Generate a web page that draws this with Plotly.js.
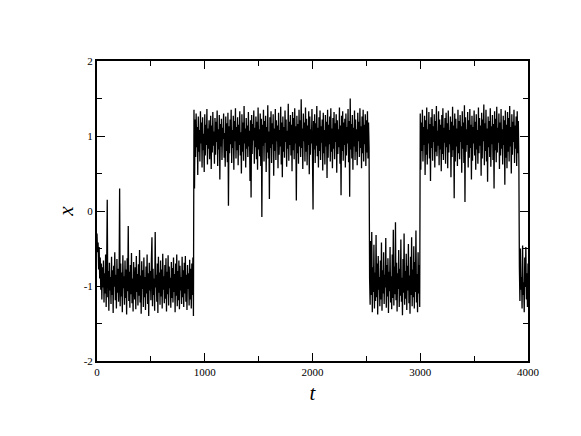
<!DOCTYPE html>
<html>
<head>
<meta charset="utf-8">
<script src="https://cdn.plot.ly/plotly-3.0.1.min.js"></script>
<style>html,body{margin:0;padding:0;background:#fff;}#chart{width:581px;height:436px;}</style>
</head>
<body>
<div id="chart"></div>
<script>
// sampling of the trace (time step between read-off values)
const tStep = 5;
// start time of each state segment
const segmentStarts = [0, 900, 2530, 3000, 3920];

// segment 1: lower state, t = 0 .. 895
const lowState1 = [
-0.30,-0.55,-0.42,-0.78,-0.48,-0.90,-0.62,-1.05,-0.70,-1.18,
-0.75,-1.02,-0.66,-1.22,-0.83,-1.10,-0.58,-1.28,-0.72,0.15,
-1.15,-0.80,-1.33,-0.69,-1.06,-0.88,-1.24,-0.61,-1.12,-0.79,
-1.36,-0.73,-1.01,-0.55,-1.19,-0.85,-1.30,-0.64,-1.09,-0.77,
-1.21,-0.92,0.30,-1.27,-0.70,-1.14,-0.82,-1.35,-0.59,-1.03,
-0.87,-1.25,-0.66,-1.16,-0.78,-1.38,-0.63,-1.07,-0.20,-1.20,
-0.81,-1.29,-0.72,-1.11,-0.56,-1.23,-0.90,-1.34,-0.68,-0.99,
-1.18,-0.75,-1.31,-0.60,-1.08,-0.84,-1.26,-0.71,-1.13,-0.52,
-1.22,-0.86,-1.37,-0.67,-1.04,-0.79,-1.28,-0.62,-1.15,-0.88,
-1.32,-0.74,-1.10,-0.58,-1.24,-0.83,-1.40,-0.69,-1.06,-0.80,
-1.19,-0.64,-0.35,-1.27,-0.77,-1.12,-0.90,-1.33,-0.28,-1.02,
-0.85,-1.21,-0.70,-1.36,-0.61,-1.09,-0.82,-1.25,-0.66,-1.14,
-0.78,-1.30,-0.57,-1.05,-0.87,-1.23,-0.72,-1.17,-0.63,-1.34,
-0.81,-1.11,-0.59,-1.26,-0.74,-1.03,-0.89,-1.29,-0.68,-1.16,
-0.76,-1.22,-0.62,-1.08,-0.84,-1.35,-0.70,-1.13,-0.58,-1.27,
-0.80,-1.19,-0.66,-1.31,-0.73,-1.06,-0.88,-1.24,-0.61,-1.15,
-0.79,-1.28,-0.69,-1.10,-0.60,-1.21,-0.85,-1.32,-0.72,-1.04,
-0.83,-1.26,-0.65,-1.18,-0.77,-1.30,-0.70,-1.12,-0.62,-1.40
];

// segment 2: upper state, t = 900 .. 2525
const highState1 = [
1.35,0.30,1.22,0.72,1.30,0.85,1.12,0.48,1.26,0.79,
1.08,0.66,1.33,0.90,1.18,0.58,1.25,0.81,1.03,0.52,
1.29,0.74,1.15,0.88,1.36,0.62,1.10,0.83,1.21,0.69,
0.95,1.27,0.56,1.14,0.78,1.32,0.87,1.06,0.63,1.24,
0.75,1.19,0.92,1.34,0.60,1.09,0.82,1.28,0.42,1.16,
0.86,1.23,0.68,1.11,0.96,1.30,0.71,1.04,0.59,1.26,
0.80,1.17,0.65,1.31,0.07,1.13,0.77,1.22,0.89,1.35,
0.64,1.08,0.84,1.27,0.55,1.20,0.93,1.37,0.70,1.12,
0.81,1.25,0.61,1.15,0.88,1.33,0.74,1.05,0.50,1.29,
0.79,1.18,0.67,1.40,0.90,1.10,0.58,1.24,0.83,1.14,
0.72,1.32,0.86,1.07,0.40,1.21,0.18,1.28,0.76,1.16,
0.94,1.34,0.63,1.11,0.85,1.26,0.69,1.19,0.55,1.38,
0.82,1.09,0.73,1.30,0.60,1.23,-0.08,1.15,0.87,1.35,
0.66,1.20,0.91,1.27,0.52,1.12,0.78,1.41,0.70,1.06,
0.16,1.25,0.84,1.33,0.64,1.17,0.89,1.29,0.47,1.10,
0.80,1.36,0.68,1.21,0.93,1.14,0.57,1.31,0.75,1.08,
0.86,1.39,0.62,1.18,0.45,1.26,0.79,1.12,0.71,1.34,
0.92,1.22,0.59,1.07,0.83,1.43,0.67,1.19,0.88,1.28,
0.74,1.15,0.53,1.32,0.81,1.24,0.69,1.37,0.90,1.13,
0.14,1.27,0.77,1.16,0.63,1.35,0.86,1.21,0.72,1.49,
0.84,1.10,0.56,1.30,0.93,1.18,0.66,1.38,0.79,1.23,
0.61,1.14,0.88,1.33,0.49,1.26,0.75,1.09,0.90,1.36,
0.70,0.02,1.20,0.82,1.29,0.64,1.17,0.87,1.40,0.73,
1.11,0.58,1.25,0.80,1.34,0.68,1.13,0.91,1.22,0.54,
1.31,0.77,1.08,0.62,1.28,0.86,1.19,0.44,1.35,0.71,
1.15,0.89,1.26,0.66,1.37,0.79,1.10,0.57,1.24,0.83,
1.32,0.69,1.17,0.92,1.29,0.51,1.21,0.76,1.09,0.85,
1.38,0.63,1.14,0.21,1.27,0.80,1.33,0.67,1.18,0.88,
1.23,0.58,1.30,0.74,1.12,0.90,1.36,0.65,1.20,0.19,
1.50,0.82,1.16,0.70,1.28,0.55,1.11,0.86,1.34,0.68,
1.22,0.79,1.09,0.61,1.31,0.93,1.19,0.72,1.37,0.84,
1.13,0.57,1.26,0.77,1.35,0.66,1.15,0.89,1.29,0.60,
1.21,0.78,1.33,0.70,1.18,0.85
];

// segment 3: lower state, t = 2530 .. 2995
const lowState2 = [
-0.90,-1.25,-0.40,-1.12,-0.28,-1.35,-0.75,-1.08,-0.45,-1.30,
-0.82,-1.20,-0.32,-1.15,-0.70,-1.38,-0.60,-1.05,-0.88,-1.27,
-0.66,-1.18,-0.42,-1.33,-0.79,-1.10,-0.55,-1.24,-0.85,-1.02,
-0.36,-1.29,-0.72,-1.14,-0.63,-1.36,-0.81,-1.07,-0.48,-1.22,
-0.87,-1.31,-0.58,-1.16,-0.25,-1.26,-0.74,-1.11,-0.15,-1.19,
-0.69,-1.34,-0.83,-1.04,-0.52,-1.28,-0.77,-1.13,-0.38,-1.21,
-0.89,-1.39,-0.64,-1.09,-0.30,-1.25,-0.80,-1.17,-0.57,-1.32,
-0.73,-1.06,-0.44,-1.23,-0.86,-1.37,-0.61,-1.12,-0.35,-1.27,
-0.78,-1.15,-0.47,-1.30,-0.68,-1.08,-0.26,-1.22,-0.84,-1.35,
-0.55,-1.10,-0.72,-1.28
];

// segment 4: upper state, t = 3000 .. 3915
const highState2 = [
1.30,0.55,1.18,0.80,1.35,0.66,1.12,0.88,1.27,0.48,
1.21,0.75,1.38,0.62,1.09,0.90,1.32,0.70,1.16,0.40,
1.25,0.84,1.36,0.67,1.13,0.92,1.29,0.58,1.20,0.79,
1.40,0.73,1.07,0.87,1.33,0.61,1.22,0.82,1.15,0.53,
1.28,0.76,1.37,0.68,1.11,0.91,1.24,0.63,1.31,0.85,
1.17,0.57,1.34,0.78,1.08,0.89,1.26,0.45,1.19,0.72,
1.39,0.81,1.14,0.17,1.30,0.66,1.23,0.86,1.10,0.60,
1.35,0.77,1.20,0.69,1.28,0.92,1.13,0.51,1.33,0.83,
1.18,0.64,1.41,0.12,1.25,0.79,1.09,0.88,1.32,0.58,
1.21,0.71,1.36,0.84,1.15,0.42,1.27,0.67,1.12,0.90,
1.34,0.74,1.19,0.55,1.29,0.82,1.08,0.63,1.38,0.77,
1.24,0.87,1.14,0.47,1.31,0.70,1.22,0.93,1.42,0.61,
1.17,0.80,1.35,0.66,1.10,0.39,1.26,0.85,1.20,0.72,
1.37,0.59,1.13,0.89,1.28,0.68,1.16,0.30,1.33,0.81,
1.23,0.65,1.39,0.78,1.11,0.91,1.30,0.56,1.18,0.74,
1.36,0.83,1.09,0.62,1.27,0.88,1.21,0.35,1.34,0.71,
1.15,0.57,1.32,0.79,1.24,0.66,1.40,0.86,1.12,0.50,
1.29,0.75,1.19,0.92,1.35,0.64,1.14,0.83,1.26,0.60,
1.33,0.77,1.20,0.70
];

// segment 5: lower state, t = 3920 .. 4000
const lowState3 = [
-0.75,-1.20,-0.50,-1.05,-0.88,-1.30,-0.46,-1.12,-0.95,-1.35,
-0.62,-1.00,-0.48,-1.18,-0.83,-1.28,-0.70
];

const xTickVals = [0, 1000, 2000, 3000, 4000];
const yTickVals = [-2, -1, 0, 1, 2];

const segments = [lowState1, highState1, lowState2, highState2, lowState3];
const tData = [], xData = [];
segments.forEach((seg, s) => {
  seg.forEach((v, i) => { tData.push(segmentStarts[s] + i * tStep); xData.push(v); });
});

const tickFont = {family: 'Liberation Serif', size: 11, color: '#000'};
const titleFont = {family: 'Liberation Serif', size: 21, color: '#000'};

const axisCommon = {
  showline: true, linecolor: '#000', linewidth: 2, mirror: 'allticks',
  ticks: 'inside', ticklen: 8, tickwidth: 1, tickcolor: '#000',
  showgrid: false, zeroline: false, tickfont: tickFont, automargin: false,
  minor: {ticks: 'inside', ticklen: 5, tickwidth: 1, tickcolor: '#000', showgrid: false}
};

const data = [{
  x: tData, y: xData, type: 'scatter', mode: 'lines',
  line: {color: '#000', width: 1.3, simplify: false}, hoverinfo: 'skip', showlegend: false
}];

const layout = {
  width: 581, height: 436,
  margin: {l: 97, r: 53, t: 61, b: 75},
  paper_bgcolor: '#fff', plot_bgcolor: '#fff',
  xaxis: Object.assign({}, axisCommon, {
    range: [0, 4000], tickvals: xTickVals, ticktext: xTickVals.map(String),
    minor: Object.assign({}, axisCommon.minor, {dtick: 500, tick0: 0}),
    ticklabelstandoff: 0,
    title: {text: '<i>t</i>', font: titleFont, standoff: 8}
  }),
  yaxis: Object.assign({}, axisCommon, {
    range: [-2, 2], tickvals: yTickVals, ticktext: yTickVals.map(String),
    minor: Object.assign({}, axisCommon.minor, {dtick: 0.5, tick0: 0}),
    ticklabelstandoff: 0,
    title: {text: '<i>x</i>', font: titleFont, standoff: 4}
  })
};

Plotly.newPlot('chart', data, layout, {displayModeBar: false, staticPlot: true});
</script>
</body>
</html>
